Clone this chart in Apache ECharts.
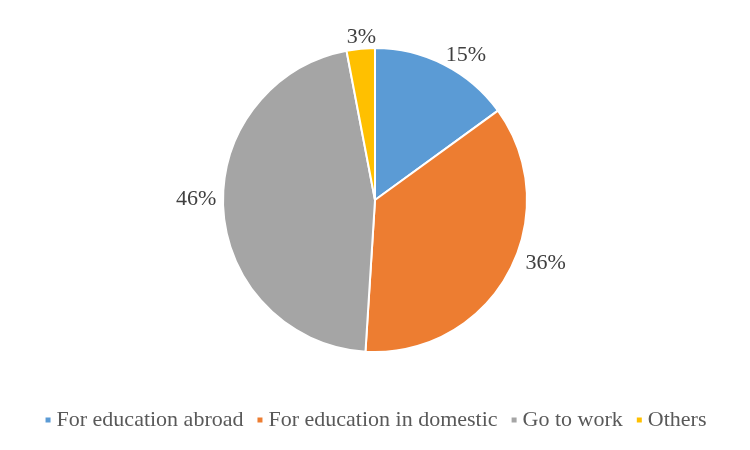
<!DOCTYPE html>
<html>
<head>
<meta charset="utf-8">
<script src="https://cdn.jsdelivr.net/npm/echarts@6/dist/echarts.min.js"></script>
<style>html,body{margin:0;padding:0;background:#fff;}#c{width:750px;height:450px;}</style>
</head>
<body>
<div id="c"></div>
<script>
const categories = ['For education abroad', 'For education in domestic', 'Go to work', 'Others'];
const values = [15, 36, 46, 3];
const colors = ['#5B9BD5', '#ED7D31', '#A5A5A5', '#FFC000'];

// fine nudges of the outside labels (pixels) to mimic the original placement
const labelNudge = [[-6, -4], [7, -13], [4, -11], [21, -5]];

const chart = echarts.init(document.getElementById('c'));
chart.setOption({
  animation: false,
  color: colors,
  legend: {
    data: categories,
    bottom: 14,
    left: 'center',
    icon: 'rect',
    itemWidth: 7,
    itemHeight: 7,
    itemGap: 12,
    textStyle: { fontFamily: 'Liberation Serif', fontSize: 22, color: '#595959' }
  },
  series: [{
    type: 'pie',
    center: [375, 200],
    radius: [0, 152],
    startAngle: 90,
    clockwise: true,
    avoidLabelOverlap: false,
    itemStyle: { borderColor: '#fff', borderWidth: 2 },
    label: {
      show: true,
      position: 'outside',
      formatter: '{d}%',
      fontFamily: 'Liberation Serif',
      fontSize: 22,
      color: '#404040'
    },
    labelLine: { show: false, length: 6, length2: 0 },
    labelLayout: function (p) {
      const n = labelNudge[p.dataIndex] || [0, 0];
      return { dx: n[0], dy: n[1] };
    },
    data: categories.map((n, i) => ({ name: n, value: values[i] }))
  }]
});
</script>
</body>
</html>
